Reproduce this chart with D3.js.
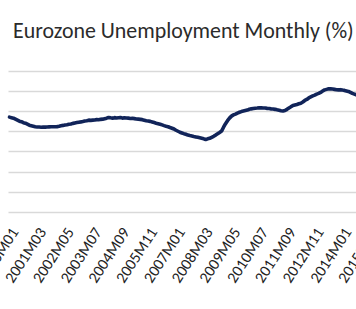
<!DOCTYPE html>
<html><head><meta charset="utf-8">
<script src="https://cdn.jsdelivr.net/npm/d3@7"></script>
<style>body{margin:0;background:#fff}svg{display:block}</style>
</head><body><svg id="c" width="356" height="309"></svg>
<script>
const titleText = "Eurozone Unemployment Monthly (%)";
const startYear = 2000;
const unemployment = [
  9.40, 9.35, 9.30, 9.20, 9.10, 9.00, 8.95, 8.85, 8.80, 8.70, 8.60, 8.55,
  8.50, 8.45, 8.42, 8.42, 8.40, 8.42, 8.41, 8.42, 8.43, 8.44, 8.45, 8.45,
  8.46, 8.50, 8.55, 8.58, 8.62, 8.65, 8.70, 8.72, 8.78, 8.82, 8.86, 8.90,
  8.93, 8.97, 9.02, 9.05, 9.10, 9.08, 9.10, 9.12, 9.15, 9.14, 9.18, 9.20,
  9.25, 9.30, 9.37, 9.33, 9.30, 9.35, 9.32, 9.34, 9.36, 9.30, 9.33, 9.32,
  9.30, 9.27, 9.28, 9.25, 9.22, 9.20, 9.18, 9.15, 9.10, 9.05, 9.02, 8.98,
  8.92, 8.86, 8.80, 8.75, 8.70, 8.63, 8.56, 8.50, 8.45, 8.37, 8.30, 8.22,
  8.10, 8.00, 7.90, 7.83, 7.76, 7.70, 7.62, 7.57, 7.53, 7.48, 7.44, 7.40,
  7.35, 7.30, 7.25, 7.18, 7.25, 7.30, 7.40, 7.50, 7.62, 7.75, 7.88, 8.02,
  8.40, 8.75, 9.05, 9.30, 9.50, 9.62, 9.70, 9.80, 9.88, 9.95, 10.00, 10.05,
  10.10, 10.18, 10.22, 10.25, 10.28, 10.30, 10.33, 10.32, 10.30, 10.30, 10.27, 10.25,
  10.22, 10.20, 10.17, 10.12, 10.08, 10.03, 10.00, 10.05, 10.17, 10.30, 10.42, 10.55,
  10.60, 10.65, 10.72, 10.78, 10.90, 11.05, 11.15, 11.30, 11.40, 11.50, 11.58, 11.68,
  11.75, 11.85, 11.98, 12.10, 12.15, 12.20, 12.20, 12.18, 12.15, 12.12, 12.10, 12.12,
  12.08, 12.05, 12.00, 11.95, 11.85, 11.75, 11.68, 11.60, 11.55, 11.50, 11.50, 11.45,
  11.30, 11.25, 11.20
];
const months = unemployment.map((v, i) =>
  `${startYear + Math.floor(i / 12)}M${String(i % 12 + 1).padStart(2, "0")}`);
const tickLabels = ["2000M01","2001M03","2002M05","2003M07","2004M09","2005M11","2007M01",
  "2008M03","2009M05","2010M07","2011M09","2012M11","2014M01","2015M03"];
const yTicks = [0, 2, 4, 6, 8, 10, 12, 14];

const svg = d3.select("#c");
const W = 356, H = 309;
const left = 8.5, step = 1.982;
const x = d3.scaleBand().domain(months).range([left, left + months.length * step]);
const y = d3.scaleLinear().domain([0, 14]).range([212, 70.7]);
const cx = m => x(m) + x.bandwidth() / 2;

// gridlines
svg.append("g").selectAll("line").data(yTicks).join("line")
  .attr("x1", left).attr("x2", W)
  .attr("y1", d => Math.round(y(d)) + 0.5).attr("y2", d => Math.round(y(d)) + 0.5)
  .attr("stroke", "#d9d9d9").attr("stroke-width", 1.3);

// line
svg.append("path").datum(unemployment)
  .attr("fill", "none").attr("stroke", "#112459").attr("stroke-width", 3.6)
  .attr("stroke-linejoin", "round").attr("stroke-linecap", "round")
  .attr("d", d3.line().x((d, i) => cx(months[i])).y(d => y(d)));

const font = "Carlito, Calibri, Lato, sans-serif";

// title
const t = svg.append("text").text(titleText)
  .attr("x", 13).attr("y", 38).attr("fill", "#2b2b2b")
  .style("font-family", font).style("font-size", "20px");
const tw = t.node().getComputedTextLength();
t.style("font-size", (20 * 341 / tw) + "px");

// x tick labels
const lab = svg.append("g").selectAll("text").data(tickLabels).join("text")
  .text(d => d)
  .attr("transform", d => `translate(${cx(d) + 5},229) rotate(-57)`)
  .attr("text-anchor", "end").attr("dominant-baseline", "central")
  .attr("fill", "#222")
  .style("font-family", font).style("font-size", "15px");
const lw = lab.nodes()[1].getComputedTextLength();
lab.style("font-size", (15 * 62 / lw) + "px");
</script></body></html>
